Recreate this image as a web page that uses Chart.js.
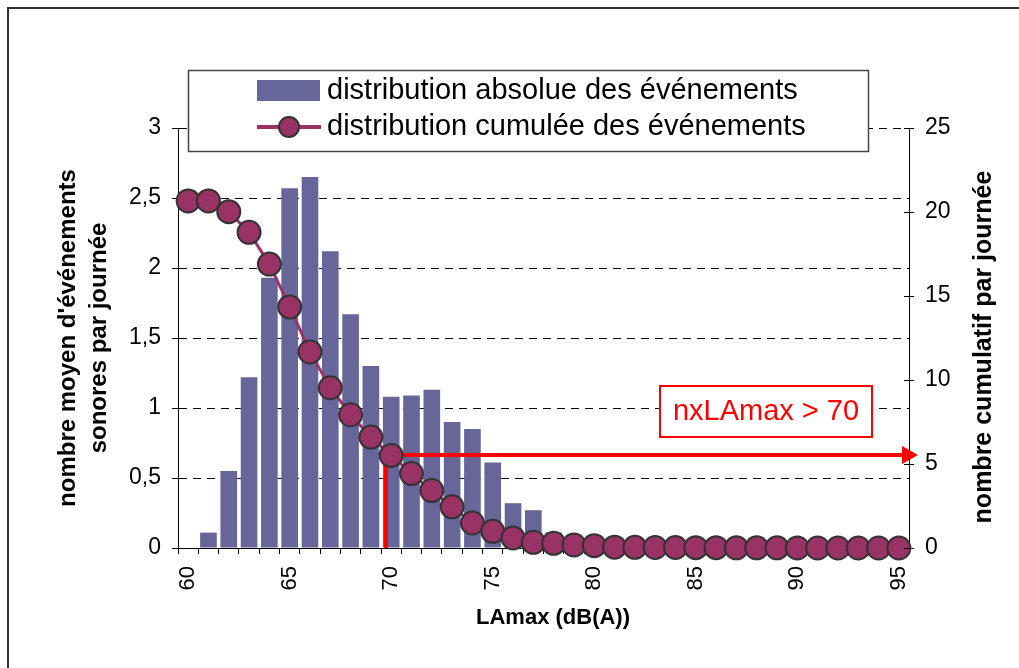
<!DOCTYPE html>
<html>
<head>
<meta charset="utf-8">
<script src="https://cdn.jsdelivr.net/npm/chart.js"></script>
<style>
  body { margin: 0; background: #fff; }
</style>
</head>
<body>
<canvas id="myChart" width="1019" height="668"></canvas>
<script>
// LAmax classes, dB(A)
const LAMAX = [60, 61, 62, 63, 64, 65, 66, 67, 68, 69, 70, 71, 72, 73, 74, 75, 76, 77,
               78, 79, 80, 81, 82, 83, 84, 85, 86, 87, 88, 89, 90, 91, 92, 93, 94, 95]

// mean number of events per day (left axis)
const ABSOLUE = [0, 0.11, 0.55, 1.22, 1.93, 2.57, 2.65, 2.12, 1.67, 1.30, 1.08, 1.09,
                 1.13, 0.90, 0.85, 0.61, 0.32, 0.27, 0.11, 0.09, 0.05, 0.02, 0.01, 0.01,
                 0, 0.01, 0, 0, 0, 0, 0, 0, 0, 0, 0, 0]

// cumulative number per day (right axis)
const CUMULEE = [20.66, 20.66, 20.02, 18.79, 16.90, 14.35, 11.67, 9.54, 7.93, 6.60, 5.51,
                 4.43, 3.42, 2.45, 1.49, 0.99, 0.60, 0.34, 0.28, 0.18, 0.14, 0.05, 0.04,
                 0.03, 0.03, 0.02, 0.02, 0.01, 0.01, 0.01, 0, 0, 0, 0, 0, 0]

const LEFT_TICKS = [0, 0.5, 1, 1.5, 2, 2.5, 3]
const RIGHT_TICKS = [0, 5, 10, 15, 20, 25]

const SEUIL = 70   // threshold for nxLAmax
const BAR_COLOR = '#666699'
const LINE_COLOR = '#993366'
const FONT = '"Liberation Sans", Arial, sans-serif'

// legend, frame, right title, x title and the nxLAmax annotation
const extras = {
  id: 'extras',
  afterDatasetDraw(chart, args) {
    if (args.index !== 0) return
    // red arrow from the cumulative value at 70 to the right axis
    const x = chart.scales.x
    const y2 = chart.scales.y2
    const i = LAMAX.indexOf(SEUIL)
    const px = Math.round(x.getPixelForValue(i) - x.width / LAMAX.length / 2 + 5)
    const py = Math.round(y2.getPixelForValue(CUMULEE[i]))
    const ctx = chart.ctx
    ctx.save()
    ctx.strokeStyle = '#ff0000'
    ctx.lineWidth = 4
    ctx.beginPath()
    ctx.moveTo(px, chart.chartArea.bottom)
    ctx.lineTo(px, py)
    ctx.lineTo(chart.chartArea.right - 6, py)
    ctx.stroke()
    ctx.fillStyle = '#ff0000'
    ctx.beginPath()
    ctx.moveTo(chart.chartArea.right + 9, py)
    ctx.lineTo(chart.chartArea.right - 7, py - 9)
    ctx.lineTo(chart.chartArea.right - 7, py + 9)
    ctx.closePath()
    ctx.fill()
    ctx.restore()
  },
  afterDraw(chart) {
    const ctx = chart.ctx
    const area = chart.chartArea
    const y2 = chart.scales.y2
    ctx.save()

    // outer frame
    ctx.strokeStyle = '#333'
    ctx.lineWidth = 2
    ctx.strokeRect(8, 8, 1100, 1000)

    // small inner ticks on the right axis
    ctx.strokeStyle = '#000'
    ctx.lineWidth = 1
    y2.ticks.forEach(function(t) {
      const yy = Math.round(y2.getPixelForValue(t.value)) + 0.5
      ctx.beginPath()
      ctx.moveTo(area.right - 5, yy)
      ctx.lineTo(area.right, yy)
      ctx.stroke()
    })

    // legend box
    ctx.fillStyle = '#fff'
    ctx.fillRect(188, 70, 680, 81)
    ctx.strokeStyle = '#444'
    ctx.lineWidth = 1.5
    ctx.strokeRect(188.5, 70.5, 680, 81)
    ctx.fillStyle = BAR_COLOR
    ctx.fillRect(257, 80, 63, 21)
    ctx.strokeStyle = LINE_COLOR
    ctx.lineWidth = 4
    ctx.beginPath()
    ctx.moveTo(257, 127)
    ctx.lineTo(321, 127)
    ctx.stroke()
    ctx.fillStyle = LINE_COLOR
    ctx.strokeStyle = '#333'
    ctx.lineWidth = 2
    ctx.beginPath()
    ctx.arc(289, 127, 10, 0, Math.PI * 2)
    ctx.fill()
    ctx.stroke()
    ctx.fillStyle = '#000'
    ctx.font = '29px ' + FONT
    ctx.textBaseline = 'middle'
    ctx.textAlign = 'left'
    ctx.fillText(chart.data.datasets[0].label, 327, 91)
    ctx.fillText(chart.data.datasets[1].label, 327, 127)

    // annotation box
    ctx.fillStyle = '#fff'
    ctx.fillRect(660, 386, 212, 51)
    ctx.strokeStyle = '#ff0000'
    ctx.lineWidth = 2
    ctx.strokeRect(660, 386, 212, 51)
    ctx.fillStyle = '#ff0000'
    ctx.font = '29px ' + FONT
    ctx.textAlign = 'center'
    ctx.fillText('nxLAmax > ' + SEUIL, 766, 412)

    // x title
    ctx.fillStyle = '#000'
    ctx.font = 'bold 22px ' + FONT
    ctx.fillText('LAmax (dB(A))', 553, 618)

    // right title, read from bottom to top
    ctx.translate(984, 347)
    ctx.rotate(-Math.PI / 2)
    ctx.font = 'bold 25px ' + FONT
    ctx.fillText('nombre cumulatif par journée', 0, 0)
    ctx.restore()
  }
}

const ctx = document.getElementById('myChart').getContext('2d')
const chart = new Chart(ctx, {
  type: 'bar',
  data: {
    labels: LAMAX,
    datasets: [{
      label: 'distribution absolue des événements',
      data: ABSOLUE,
      backgroundColor: BAR_COLOR,
      barPercentage: 0.82,
      categoryPercentage: 1.0,
      yAxisID: 'y',
      order: 2
    }, {
      type: 'line',
      label: 'distribution cumulée des événements',
      data: CUMULEE,
      borderColor: LINE_COLOR,
      borderWidth: 3,
      pointRadius: 11.5,
      pointBorderWidth: 2,
      pointBorderColor: '#333',
      pointBackgroundColor: LINE_COLOR,
      tension: 0,
      clip: false,
      yAxisID: 'y2',
      order: 1
    }]
  },
  options: {
    responsive: false,
    animation: false,
    devicePixelRatio: 1,
    events: [],
    layout: { padding: { left: 40, right: 20, top: 128, bottom: 20 } },
    plugins: {
      legend: { display: false },
      tooltip: { enabled: false }
    },
    scales: {
      x: {
        afterFit: function(s) { s.height = 100 },
        grid: { offset: true, drawOnChartArea: false, tickLength: 6, color: '#000' },
        border: { color: '#000' },
        ticks: {
          autoSkip: false,
          maxRotation: 90,
          minRotation: 90,
          padding: 12,
          color: '#000',
          font: { family: FONT, size: 22 },
          callback: function(v, i) { return LAMAX[i] % 5 === 0 ? String(LAMAX[i]) : '' }
        }
      },
      y: {
        position: 'left',
        min: 0,
        max: 3,
        afterFit: function(s) { s.width = 138 },
        afterBuildTicks: function(s) { s.ticks = LEFT_TICKS.map(function(v) { return { value: v } }) },
        grid: { color: '#000', tickColor: '#000', tickLength: 6, tickBorderDash: [] },
        border: { color: '#000', dash: [8, 6] },
        ticks: {
          padding: 11,
          color: '#000',
          font: { family: FONT, size: 23 },
          callback: function(v) { return String(v).replace('.', ',') }
        },
        title: {
          display: true,
          text: ["nombre moyen d'événements", 'sonores par journée'],
          color: '#000',
          font: { family: FONT, size: 24, weight: 'bold', lineHeight: 1.3 },
          padding: { top: 13, bottom: 0 }
        }
      },
      y2: {
        position: 'right',
        min: 0,
        max: 25,
        afterFit: function(s) { s.width = 90 },
        afterBuildTicks: function(s) { s.ticks = RIGHT_TICKS.map(function(v) { return { value: v } }) },
        grid: { drawOnChartArea: false, color: '#000', tickLength: 5 },
        border: { color: '#000' },
        ticks: {
          padding: 11,
          color: '#000',
          font: { family: FONT, size: 23 }
        }
      }
    }
  },
  plugins: [extras]
})
</script>
</body>
</html>
